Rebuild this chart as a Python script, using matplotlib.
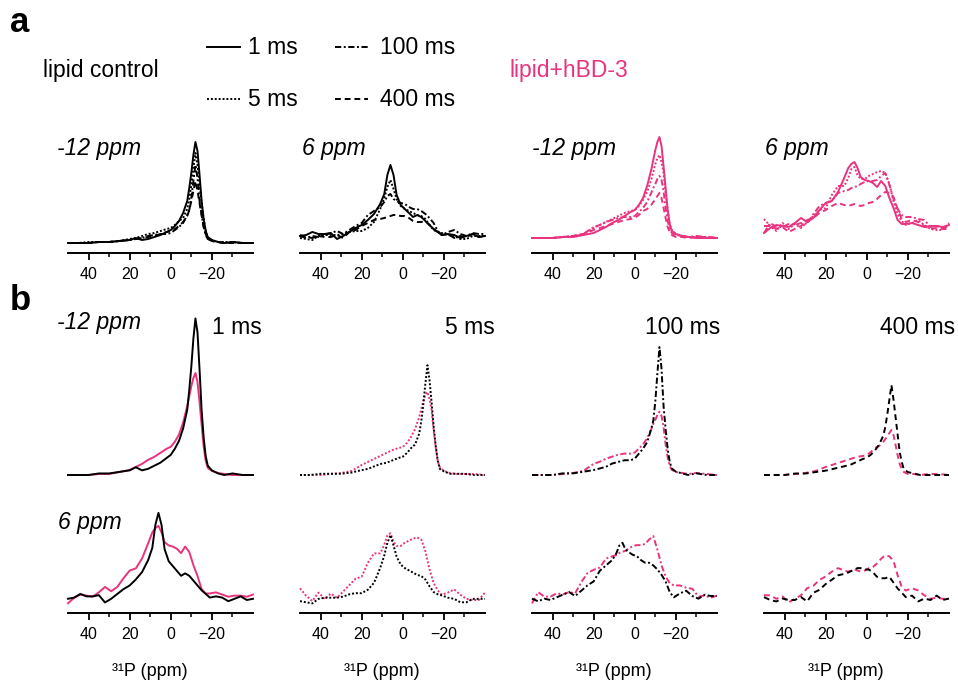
import matplotlib
matplotlib.use('Agg')
import matplotlib.pyplot as plt
from matplotlib.lines import Line2D
import numpy as np

plt.rcParams['font.family'] = ['Liberation Sans', 'DejaVu Sans']

PINK = '#E9337F'
mix_times = ['1 ms', '5 ms', '100 ms', '400 ms']
site_labels = ['-12 ppm', '6 ppm']

# chemical shift grids (ppm)
ppm_m12 = [50, 45, 40, 35, 30, 25, 20, 17, 14, 11, 8, 5, 2, 0, -2, -4, -6, -8, -9, -10,
           -11, -12, -13, -14, -15, -16, -17, -18, -20, -23, -26, -30, -35, -40]
ppm_6 = [50, 47, 44, 41, 38, 35, 32, 29, 26, 23, 20, 17, 14, 11, 9, 7.5, 6, 4.5, 3, 1,
         -1, -3, -5, -7, -9, -11, -13, -15, -17, -19, -22, -25, -28, -31, -34, -37, -40]

# lipid control, -12 ppm selective excitation
ctrl_m12_1ms = [0, 0, 0, 1, 1, 2, 3, 5, 3, 4, 6, 8, 11, 13, 17, 22, 30, 42, 55, 70,
                88, 101, 92, 68, 42, 24, 12, 6, 3, 1, 0, 1, 0, 0]
ctrl_m12_5ms = [0, 0, 1, 1, 1, 2, 4, 5, 7, 9, 10, 12, 14, 15, 18, 22, 25, 34, 44, 58,
                75, 90, 78, 60, 40, 24, 12, 5, 3, 1, 1, 1, 0, 0]
ctrl_m12_100ms = [0, 0, 0, 1, 1, 2, 3, 4, 5, 7, 8, 9, 9, 10, 13, 16, 20, 28, 33, 45,
                  62, 78, 65, 42, 28, 16, 8, 4, 2, 1, 0, 1, 0, 0]
ctrl_m12_400ms = [0, 0, 0, 1, 1, 2, 3, 4, 5, 6, 7, 9, 11, 12, 14, 17, 21, 27, 33, 42,
                  52, 62, 52, 40, 28, 16, 9, 4, 2, 1, 0, 0, 0, 0]

# lipid + hBD-3, -12 ppm
hbd_m12_1ms = [0, 0, 0, 1, 1, 3, 5, 8, 11, 15, 18, 22, 26, 28, 33, 40, 52, 68, 78, 88,
               96, 101, 92, 72, 50, 28, 14, 7, 4, 2, 1, 0, 0, 0]
hbd_m12_5ms = [0, 0, 0, 1, 2, 4, 10, 13, 16, 19, 22, 25, 27, 28, 32, 38, 46, 58, 66, 74,
               80, 83, 76, 65, 45, 28, 14, 8, 4, 2, 1, 1, 1, 0]
hbd_m12_100ms = [0, 0, 0, 1, 2, 4, 11, 13, 16, 18, 20, 21, 21, 22, 26, 30, 36, 45, 50, 54,
                 59, 62, 58, 47, 30, 17, 9, 5, 3, 2, 1, 2, 1, 0]
hbd_m12_400ms = [0, 0, 0, 1, 2, 4, 8, 10, 12, 14, 16, 18, 19, 20, 23, 27, 29, 33, 36, 38,
                 42, 45, 40, 30, 20, 11, 6, 3, 1, 1, 0, 1, 1, 0]

# lipid control, 6 ppm
ctrl_6_1ms = [1, 2, 5, 3, 3, 4, -2, 1, 5, 9, 12, 17, 23, 33, 43, 62, 72, 62, 42, 32,
              28, 24, 20, 22, 20, 16, 12, 8, 5, 2, 3, 2, -1, 1, 3, 0, 1]
ctrl_6_5ms = [-1, -2, -3, 1, 2, 2, 2, 3, 5, 6, 6, 9, 15, 28, 39, 50, 57, 48, 38, 31,
              28, 26, 24, 22, 21, 18, 12, 7, 5, 4, 2, 1, -2, -2, 1, 1, 1]
ctrl_6_100ms = [1, -1, 1, 0, 2, 4, 6, 3, 7, 11, 14, 22, 26, 30, 35, 41, 43, 38, 36, 34,
                33, 30, 28, 28, 26, 23, 19, 14, 6, 2, 5, 7, 3, 1, 4, 3, 3]
ctrl_6_400ms = [2, 0, -1, 1, 0, 0, 2, -1, 5, 7, 11, 14, 17, 18, 19, 20, 21, 22, 22, 21,
                21, 19, 16, 15, 15, 16, 12, 8, 5, 2, 3, -1, 1, 0, 3, 0, 1]

# lipid + hBD-3, 6 ppm
hbd_6_1ms = [-3, 2, 5, 4, 3, 7, 12, 8, 12, 20, 27, 29, 38, 52, 62, 66, 68, 62, 53, 50,
             49, 47, 43, 49, 44, 32, 22, 10, 6, 6, 7, 5, 3, 4, 4, 3, 5]
hbd_6_5ms = [11, 4, -1, 7, 1, 6, 2, 8, 14, 20, 22, 35, 44, 44, 52, 61, 63, 55, 51, 51,
             54, 56, 58, 59, 57, 46, 29, 16, 9, 5, 7, 10, 5, 1, 0, 0, 7]
hbd_6_100ms = [-3, 7, 3, 3, 6, 5, 7, 6, 16, 24, 27, 29, 37, 39, 40, 42, 43, 44, 46, 48,
               49, 49, 50, 54, 57, 45, 31, 21, 15, 13, 13, 11, 10, 3, 4, 2, 4]
hbd_6_400ms = [4, 4, 1, 3, -2, 1, 4, 10, 12, 17, 20, 24, 27, 25, 24, 25, 26, 25, 24, 25,
               27, 28, 31, 35, 38, 37, 33, 21, 11, 8, 10, 8, 4, 1, 2, 1, 1]

# relative scaling of each trace in panel b
b_scale_ctrl_m12 = [1.55, 1.22, 1.64, 1.45]
b_scale_hbd_m12 = [1.01, 1.00, 1.02, 1.00]
b_scale_ctrl_6 = [1.21, 1.14, 1.33, 1.45]
b_scale_hbd_6 = [1.09, 1.06, 1.12, 1.18]

ctrl_m12 = [ctrl_m12_1ms, ctrl_m12_5ms, ctrl_m12_100ms, ctrl_m12_400ms]
hbd_m12 = [hbd_m12_1ms, hbd_m12_5ms, hbd_m12_100ms, hbd_m12_400ms]
ctrl_6 = [ctrl_6_1ms, ctrl_6_5ms, ctrl_6_100ms, ctrl_6_400ms]
hbd_6 = [hbd_6_1ms, hbd_6_5ms, hbd_6_100ms, hbd_6_400ms]

styles = ['-', (0, (1, 1)), (0, (3.2, 1.3, 1, 1.3)), (0, (3, 2))]
LW = 1.4

W, H = 958, 684
fig = plt.figure(figsize=(W / 100, H / 100), dpi=100)


def add_ax(left, top, width, height):
    return fig.add_axes([left / W, 1 - (top + height) / H, width / W, height / H])


def fx(px):
    return px / W


def fy(py):
    return 1 - py / H


def style_axis(ax, show_axis=True, labels=True):
    ax.set_xlim(50, -40)
    for s in ['top', 'right', 'left']:
        ax.spines[s].set_visible(False)
    ax.set_yticks([])
    ax.patch.set_alpha(0)
    if show_axis:
        ax.spines['bottom'].set_linewidth(1.4)
        ax.set_xticks([40, 20, 0, -20])
        ax.set_xticks([30, 10, -10, -30], minor=True)
        ax.tick_params(axis='x', which='major', direction='out', length=5, width=1.3,
                       labelsize=11.5, pad=5)
        ax.tick_params(axis='x', which='minor', direction='out', length=3, width=1.1)
        if not labels:
            ax.set_xticklabels([])
    else:
        ax.spines['bottom'].set_visible(False)
        ax.set_xticks([])


col_left = [68, 300, 532, 764]
col_w = 185

# ---------- panel a ----------
a_data = [(ctrl_m12, 'black', ppm_m12), (ctrl_6, 'black', ppm_6),
          (hbd_m12, PINK, ppm_m12), (hbd_6, PINK, ppm_6)]
a_bottom = [-10, -16, -15, -23]
a_titles = ['-12 ppm', '6 ppm', '-12 ppm', '6 ppm']
a_title_x = [57, 302, 532, 765]
for i, (curves, col, xs) in enumerate(a_data):
    ax = add_ax(col_left[i], 135, col_w, 118)
    for k, ys in enumerate(curves):
        ax.plot(xs, ys, color=col, lw=LW, linestyle=styles[k], clip_on=False)
    ax.set_ylim(a_bottom[i], a_bottom[i] + 118)
    style_axis(ax)
    fig.text(fx(a_title_x[i]), fy(148), a_titles[i], fontsize=16.5, style='italic',
             ha='left', va='center')

# ---------- panel b ----------
for j in range(4):
    ax = add_ax(col_left[j], 305, col_w, 180)
    ax.plot(ppm_m12, np.array(hbd_m12[j]) * b_scale_hbd_m12[j], color=PINK, lw=LW,
            linestyle=styles[j], clip_on=False)
    ax.plot(ppm_m12, np.array(ctrl_m12[j]) * b_scale_ctrl_m12[j], color='black', lw=LW,
            linestyle=styles[j], clip_on=False)
    ax.set_ylim(-10, 170)
    style_axis(ax, show_axis=False)

    ax2 = add_ax(col_left[j], 495, col_w, 118)
    ax2.plot(ppm_6, np.array(hbd_6[j]) * b_scale_hbd_6[j], color=PINK, lw=LW,
             linestyle=styles[j], clip_on=False)
    ax2.plot(ppm_6, np.array(ctrl_6[j]) * b_scale_ctrl_6[j], color='black', lw=LW,
             linestyle=styles[j], clip_on=False)
    ax2.set_ylim(-13, 105)
    style_axis(ax2)
    fig.text(fx(col_left[j] + 82), fy(672), '³¹P (ppm)', fontsize=13,
             ha='center', va='center')

time_right = [262, 495, 720, 955]
for j in range(4):
    fig.text(fx(time_right[j]), fy(328), mix_times[j], fontsize=16.5,
             ha='right', va='center')
fig.text(fx(57), fy(322), site_labels[0], fontsize=16.5, style='italic',
         ha='left', va='center')
fig.text(fx(58), fy(522), site_labels[1], fontsize=16.5, style='italic',
         ha='left', va='center')

# ---------- legend / headers ----------
fig.text(fx(10), fy(22), 'a', fontsize=25, fontweight='bold', ha='left', va='center')
fig.text(fx(10), fy(300), 'b', fontsize=25, fontweight='bold', ha='left', va='center')
fig.text(fx(43), fy(70), 'lipid control', fontsize=16.5, ha='left', va='center')
fig.text(fx(510), fy(70), 'lipid+hBD-3', fontsize=16.5, ha='left', va='center', color=PINK)

leg_pos = [(207, 47), (207, 99), (335, 47), (335, 99)]
for k in [0, 2, 1, 3]:
    x0, y0 = leg_pos[k]
    fig.add_artist(Line2D([fx(x0), fx(x0 + 33)], [fy(y0), fy(y0)], color='black',
                          lw=LW, linestyle=styles[k]))
    fig.text(fx(x0 + 41 + (4 if k >= 2 else 0)), fy(y0), mix_times[k], fontsize=16.5,
             ha='left', va='center')

fig.savefig('out.png', dpi=100)
